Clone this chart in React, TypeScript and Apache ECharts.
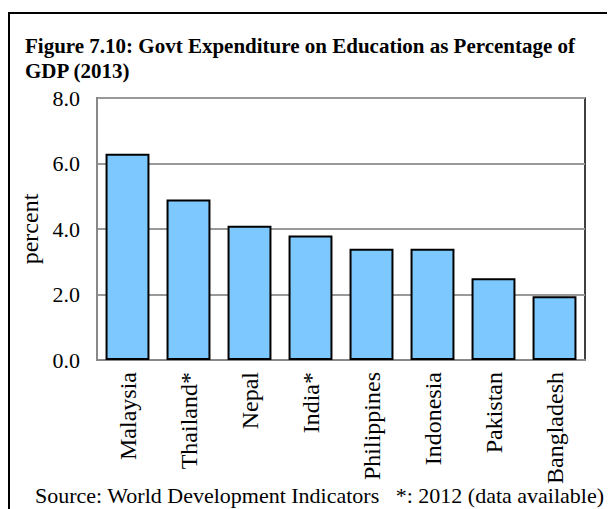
import React, { useEffect, useRef } from "react";
import * as echarts from "echarts";

const categories = ["Malaysia", "Thailand*", "Nepal", "India*", "Philippines", "Indonesia", "Pakistan", "Bangladesh"];
const values = [6.3, 4.9, 4.1, 3.8, 3.4, 3.4, 2.5, 1.95];
const titleText = "Figure 7.10: Govt Expenditure on Education as Percentage of\nGDP (2013)";
const sourceText = "Source: World Development Indicators   *: 2012 (data available)";

const FONT = "'Liberation Serif', 'Times New Roman', serif";

export default function App() {
  const ref = useRef<HTMLDivElement>(null);
  useEffect(() => {
    if (!ref.current) return;
    const chart = echarts.init(ref.current, null, { renderer: "svg" });
    chart.setOption({
      animation: false,
      backgroundColor: "#fff",
      title: {
        text: titleText,
        left: 12,
        top: 21,
        textStyle: { fontFamily: FONT, fontSize: 21, fontWeight: "bold", color: "#000", lineHeight: 24.5 },
      },
      grid: {
        left: 89,
        top: 90,
        right: 30,
        bottom: 149,
        show: true,
        borderColor: "#000",
        borderWidth: 1.5,
        backgroundColor: "transparent",
      },
      xAxis: {
        type: "category",
        data: categories,
        axisLine: { lineStyle: { color: "#888", width: 2 } },
        axisTick: { show: false },
        axisLabel: { rotate: 90, fontFamily: FONT, fontSize: 24, color: "#000", margin: 12, interval: 0 },
      },
      yAxis: {
        type: "value",
        min: 0,
        max: 8,
        interval: 2,
        name: "percent",
        nameLocation: "middle",
        nameGap: 45,
        nameTextStyle: { fontFamily: FONT, fontSize: 24, color: "#000" },
        axisLine: { show: true, lineStyle: { color: "#888", width: 2 } },
        axisTick: { show: false },
        splitLine: { lineStyle: { color: "#999", width: 2 } },
        axisLabel: { fontFamily: FONT, fontSize: 22, color: "#000", margin: 17, formatter: (v: number) => v.toFixed(1) },
      },
      series: [
        {
          type: "bar",
          data: values,
          barCategoryGap: "28%",
          itemStyle: { color: "#7CC8FF", borderColor: "#000", borderWidth: 2 },
        },
      ],
      graphic: [
        {
          type: "rect",
          shape: { x: 1, y: 5, width: 602, height: 520 },
          style: { fill: "none", stroke: "#000", lineWidth: 2 },
          silent: true,
        },
        {
          type: "text",
          left: 27,
          top: 476,
          style: { text: sourceText, font: `22px ${FONT}`, fill: "#000" },
        },
      ],
    });
    return () => chart.dispose();
  }, []);
  return <div ref={ref} style={{ width: 607, height: 501 }} />;
}
